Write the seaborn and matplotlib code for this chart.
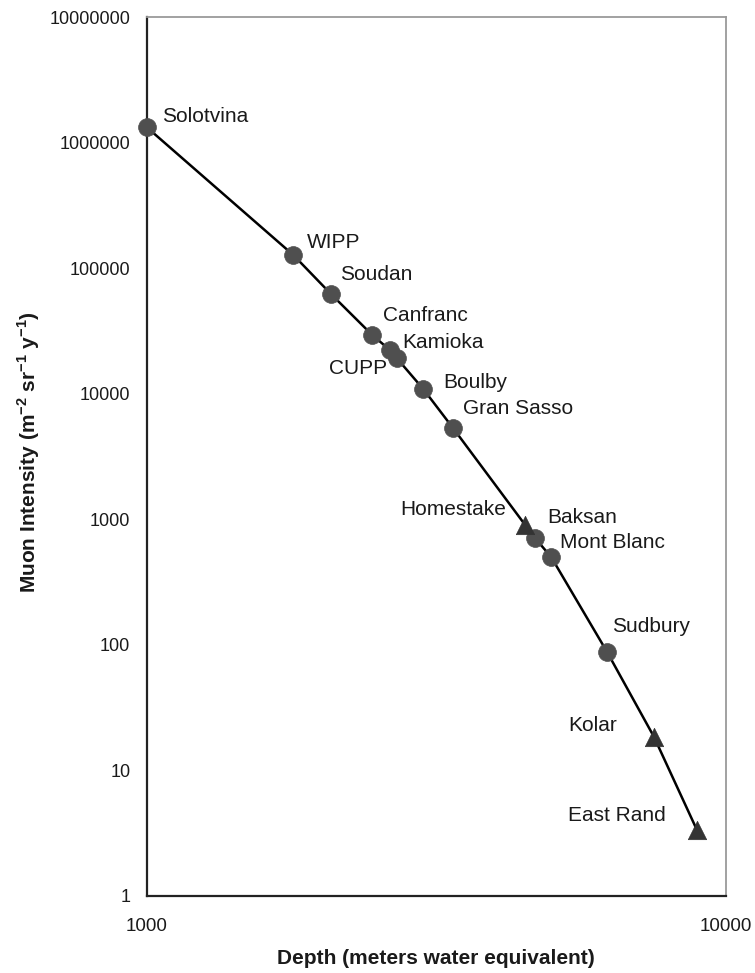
import matplotlib
matplotlib.use("Agg")
import matplotlib.pyplot as plt
from matplotlib.ticker import FixedLocator, NullFormatter, FuncFormatter
import pandas as pd
import seaborn as sns

# Underground laboratories: depth (m.w.e.) and vertical muon intensity
sites = ["Solotvina", "WIPP", "Soudan", "Canfranc", "Kamioka", "CUPP", "Boulby",
         "Gran Sasso", "Homestake", "Baksan", "Mont Blanc", "Sudbury", "Kolar",
         "East Rand"]
depth_mwe = [1000, 1790, 2080, 2450, 2630, 2700, 3000, 3380, 4500, 4680, 4990,
             6230, 7510, 8910]
intensity = [1.32e6, 1.27e5, 6.2e4, 2.93e4, 2.22e4, 1.92e4, 1.09e4, 5.3e3,
             900, 708, 500, 88, 18.5, 3.35]
site_kind = ["circle"] * 8 + ["triangle"] + ["circle"] * 3 + ["triangle"] * 2

y_ticks = [1, 10, 100, 1000, 10000, 100000, 1000000, 10000000]
x_ticks = [1000, 10000]

# label placement relative to each marker, in pixels (dx, dy, alignment)
label_offsets = {
    "Solotvina": (15, 11, "left"),
    "WIPP": (14, 13, "left"),
    "Soudan": (9, 20, "left"),
    "Canfranc": (11, 20, "left"),
    "Kamioka": (12, 8, "left"),
    "CUPP": (-10, -10, "right"),
    "Boulby": (20, 7, "left"),
    "Gran Sasso": (10, 20, "left"),
    "Homestake": (-19, 16, "right"),
    "Baksan": (12, 21, "left"),
    "Mont Blanc": (9, 15, "left"),
    "Sudbury": (5, 25, "left"),
    "Kolar": (-37, 11, "right"),
    "East Rand": (-31, 15, "right"),
}

df = pd.DataFrame({"site": sites, "depth": depth_mwe,
                   "intensity": intensity, "kind": site_kind})

sns.set_style("white")
plt.rcParams["font.family"] = ["Liberation Sans", "DejaVu Sans"]
plt.rcParams["mathtext.fontset"] = "custom"
plt.rcParams["mathtext.rm"] = "Liberation Sans"
plt.rcParams["mathtext.bf"] = "Liberation Sans:bold"

fig = plt.figure(figsize=(7.55, 9.73), dpi=100)
ax = fig.add_axes([147 / 755, 77 / 973, 579 / 755, 879 / 973])

sns.lineplot(data=df, x="depth", y="intensity", sort=False, estimator=None,
             color="black", linewidth=1.8, ax=ax, zorder=2)

circ = df[df["kind"] == "circle"]
tri = df[df["kind"] == "triangle"]
sns.scatterplot(data=circ, x="depth", y="intensity", marker="o", s=165,
                color="#4f4f4f", edgecolor="#4f4f4f", linewidth=0.5,
                ax=ax, zorder=3, clip_on=False)
sns.scatterplot(data=tri, x="depth", y="intensity", marker="^", s=175,
                color="#333333", edgecolor="#333333", linewidth=0.5,
                ax=ax, zorder=3, clip_on=False)

for name, x, y in zip(sites, depth_mwe, intensity):
    dx, dy, ha = label_offsets[name]
    ax.annotate(name, (x, y), xytext=(dx, dy), textcoords="offset pixels",
                ha=ha, va="center", fontsize=15, color="#1a1a1a")

ax.set_xscale("log")
ax.set_yscale("log")
ax.set_xlim(1000, 10000)
ax.set_ylim(1, 1e7)

ax.xaxis.set_major_locator(FixedLocator(x_ticks))
ax.xaxis.set_minor_locator(FixedLocator(list(range(2000, 10000, 1000))))
ax.xaxis.set_major_formatter(FuncFormatter(lambda v, p: f"{int(round(v))}"))
ax.xaxis.set_minor_formatter(NullFormatter())

minor_y = [m * 10 ** e for e in range(0, 7) for m in range(2, 10)]
ax.yaxis.set_major_locator(FixedLocator(y_ticks))
ax.yaxis.set_minor_locator(FixedLocator(minor_y))
ax.yaxis.set_major_formatter(FuncFormatter(lambda v, p: f"{int(round(v))}"))
ax.yaxis.set_minor_formatter(NullFormatter())

ax.tick_params(axis="x", which="major", direction="inout", length=8, width=1,
               pad=12, labelsize=13.5, color="#333333", labelcolor="#1a1a1a")
ax.tick_params(axis="x", which="minor", direction="inout", length=7, width=1,
               color="#333333")
ax.tick_params(axis="y", which="major", direction="in", length=6, width=1,
               pad=12, labelsize=13, color="#333333", labelcolor="#1a1a1a")
ax.tick_params(axis="y", which="minor", direction="in", length=4, width=1,
               color="#333333")

for side in ("left", "bottom"):
    ax.spines[side].set_color("#222222")
    ax.spines[side].set_linewidth(1.6)
for side in ("top", "right"):
    ax.spines[side].set_color("#9a9a9a")
    ax.spines[side].set_linewidth(1.3)

ax.set_xlabel("Depth (meters water equivalent)", fontsize=15,
              fontweight="bold", color="#1a1a1a")
ax.set_ylabel(r"Muon Intensity (m$^{\mathbf{-2}}$ sr$^{\mathbf{-1}}$ y$^{\mathbf{-1}}$)",
              fontsize=15, fontweight="bold", color="#1a1a1a")
ax.xaxis.label.set_va("center")
ax.xaxis.set_label_coords((436 - 147) / 579, (896 - 958) / 879)
ax.yaxis.label.set_va("center")
ax.yaxis.set_label_coords((29 - 147) / 579, (896 - 452) / 879)

fig.savefig("out.png", dpi=100, facecolor="white")
